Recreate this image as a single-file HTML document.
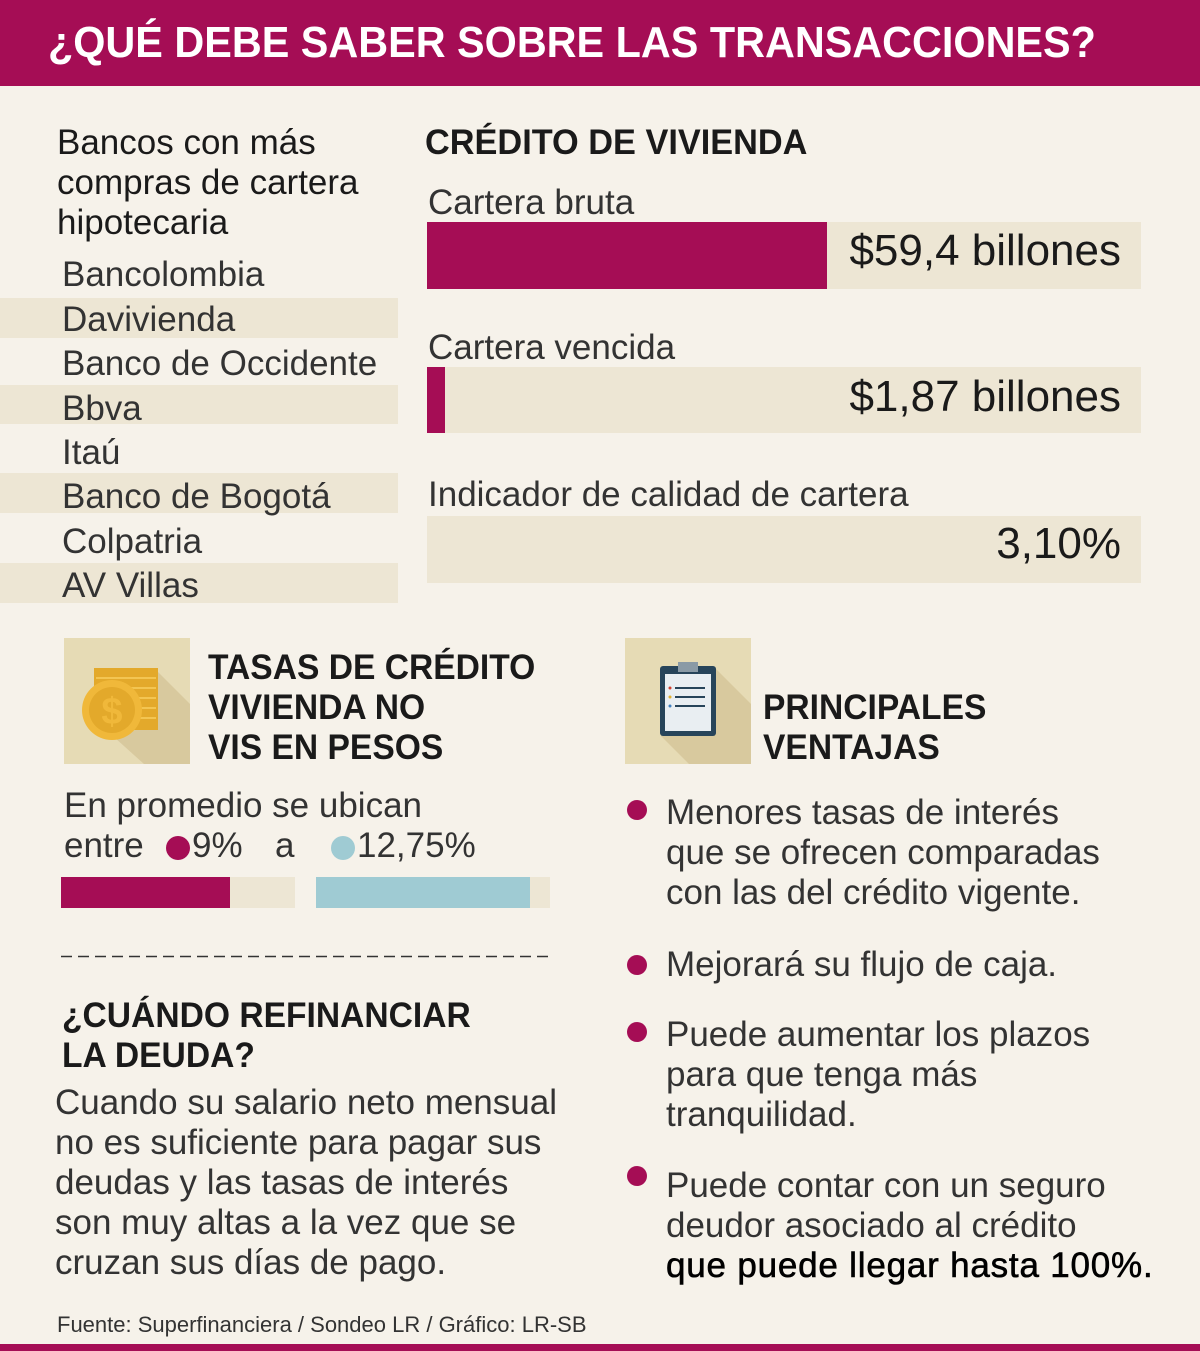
<!DOCTYPE html>
<html><head><meta charset="utf-8"><style>
body{margin:0;width:1200px;height:1351px;background:#f6f2ea;position:relative;overflow:hidden;font-family:"Liberation Sans",sans-serif;color:#1a1a1a}
.a{position:absolute;white-space:nowrap}
.t{font-size:35px;line-height:40px}
.b{font-weight:bold}
.sx{display:inline-block;transform-origin:left top}
.bar{position:absolute;background:#ede6d4}
.fill{position:absolute;background:#a50d55}
.dot{position:absolute;width:20px;height:20px;border-radius:50%;background:#a50d55}
</style></head><body>
<div class="a" style="left:0;top:0;width:1200px;height:86px;background:#a50d55"></div>
<div class="a b" style="left:48px;top:18px;font-size:44px;line-height:50px;color:#fff"><span class="sx" style="transform:scaleX(0.94)">¿QUÉ DEBE SABER SOBRE LAS TRANSACCIONES?</span></div>
<div class="a" style="left:0;top:1344px;width:1200px;height:7px;background:#a50d55"></div>

<div class="a t" style="left:57px;top:123px">Bancos con más</div>
<div class="a t" style="left:57px;top:163px">compras de cartera</div>
<div class="a t" style="left:57px;top:203px">hipotecaria</div>

<div class="bar" style="left:0;top:298px;width:398px;height:40px"></div>
<div class="bar" style="left:0;top:385px;width:398px;height:39px"></div>
<div class="bar" style="left:0;top:473px;width:398px;height:40px"></div>
<div class="bar" style="left:0;top:563px;width:398px;height:40px"></div>
<div class="a t" style="left:62px;top:255px;color:#333">Bancolombia</div>
<div class="a t" style="left:62px;top:300px;color:#333">Davivienda</div>
<div class="a t" style="left:62px;top:344px;color:#333">Banco de Occidente</div>
<div class="a t" style="left:62px;top:389px;color:#333">Bbva</div>
<div class="a t" style="left:62px;top:433px;color:#333">Itaú</div>
<div class="a t" style="left:62px;top:477px;color:#333">Banco de Bogotá</div>
<div class="a t" style="left:62px;top:522px;color:#333">Colpatria</div>
<div class="a t" style="left:62px;top:566px;color:#333">AV Villas</div>

<div class="a t b" style="left:425px;top:123px"><span class="sx" style="transform:scaleX(0.98)">CRÉDITO DE VIVIENDA</span></div>
<div class="a t" style="left:428px;top:183px;color:#333">Cartera bruta</div>
<div class="bar" style="left:427px;top:222px;width:714px;height:67px"></div>
<div class="fill" style="left:427px;top:222px;width:400px;height:67px"></div>
<div class="a" style="right:79px;top:227px;font-size:44px;line-height:48px">$59,4 billones</div>

<div class="a t" style="left:428px;top:328px;color:#333">Cartera vencida</div>
<div class="bar" style="left:427px;top:367px;width:714px;height:66px"></div>
<div class="fill" style="left:427px;top:367px;width:18px;height:66px"></div>
<div class="a" style="right:79px;top:373px;font-size:44px;line-height:48px">$1,87 billones</div>

<div class="a t" style="left:428px;top:475px;color:#333">Indicador de calidad de cartera</div>
<div class="bar" style="left:427px;top:516px;width:714px;height:67px"></div>
<div class="a" style="right:79px;top:520px;font-size:44px;line-height:48px">3,10%</div>

<!-- coin icon -->
<div class="a" style="left:64px;top:638px;width:126px;height:126px;background:#e6dbb5;overflow:hidden">
<svg width="126" height="126"><polygon points="40,90 90,30 126,66 126,126 80,126" fill="#d8c99e"/>
<rect x="30" y="30" width="64" height="62" fill="#e3a92b"/>
<g stroke="#f3c552" stroke-width="2"><line x1="32" y1="40" x2="92" y2="40"/><line x1="32" y1="50" x2="92" y2="50"/><line x1="32" y1="60" x2="92" y2="60"/><line x1="32" y1="70" x2="92" y2="70"/><line x1="32" y1="80" x2="92" y2="80"/></g>
<circle cx="48" cy="72" r="30" fill="#f0b83a"/><circle cx="48" cy="72" r="23" fill="#e3a92b"/>
<text x="48" y="86" font-size="38" font-weight="bold" text-anchor="middle" fill="#f0b83a" font-family="Liberation Sans">$</text></svg></div>
<div class="a t b" style="left:208px;top:648px;line-height:40px"><span class="sx" style="transform:scaleX(0.96)">TASAS DE CRÉDITO<br>VIVIENDA NO<br>VIS EN PESOS</span></div>

<!-- clipboard icon -->
<div class="a" style="left:625px;top:638px;width:126px;height:126px;background:#e6dbb5;overflow:hidden">
<svg width="126" height="126"><polygon points="36,98 90,30 126,66 126,126 64,126" fill="#d8c99e"/>
<rect x="35" y="28" width="56" height="70" rx="3" fill="#27445a"/>
<rect x="40" y="36" width="46" height="57" fill="#e9eef2"/>
<rect x="53" y="24" width="20" height="10" fill="#8a9aa6"/>
<g stroke="#27445a" stroke-width="2"><line x1="50" y1="50" x2="80" y2="50"/><line x1="50" y1="59" x2="80" y2="59"/><line x1="50" y1="68" x2="80" y2="68"/></g>
<circle cx="45" cy="50" r="1.5" fill="#d04030"/><circle cx="45" cy="59" r="1.5" fill="#e0b030"/><circle cx="45" cy="68" r="1.5" fill="#4080c0"/></svg></div>
<div class="a t b" style="left:763px;top:688px;line-height:40px"><span class="sx" style="transform:scaleX(0.96)">PRINCIPALES<br>VENTAJAS</span></div>

<div class="a t" style="left:64px;top:786px;color:#333">En promedio se ubican</div>
<div class="a t" style="left:64px;top:826px;color:#333">entre</div>
<div class="dot" style="left:166px;top:836px;width:24px;height:24px"></div>
<div class="a t" style="left:192px;top:826px;color:#333">9%</div>
<div class="a t" style="left:275px;top:826px;color:#333">a</div>
<div class="dot" style="left:331px;top:836px;width:24px;height:24px;background:#9fcbd3"></div>
<div class="a t" style="left:357px;top:826px;color:#333">12,75%</div>
<div class="bar" style="left:61px;top:877px;width:234px;height:31px"></div>
<div class="fill" style="left:61px;top:877px;width:169px;height:31px"></div>
<div class="bar" style="left:316px;top:877px;width:234px;height:31px"></div>
<div class="fill" style="left:316px;top:877px;width:214px;height:31px;background:#9fcbd3"></div>
<svg class="a" style="left:61px;top:955px" width="489" height="3"><line x1="0" y1="1.5" x2="489" y2="1.5" stroke="#333" stroke-width="1.5" stroke-dasharray="11,6"/></svg>

<div class="a t b" style="left:62px;top:996px;line-height:40px"><span class="sx" style="transform:scaleX(0.96)">¿CUÁNDO REFINANCIAR<br>LA DEUDA?</span></div>
<div class="a t" style="left:55px;top:1083px;color:#333">Cuando su salario neto mensual<br>no es suficiente para pagar sus<br>deudas y las tasas de interés<br>son muy altas a la vez que se<br>cruzan sus días de pago.</div>

<div class="dot" style="left:627px;top:800px"></div>
<div class="a t" style="left:666px;top:793px;color:#333">Menores tasas de interés<br>que se ofrecen comparadas<br>con las del crédito vigente.</div>
<div class="dot" style="left:627px;top:955px"></div>
<div class="a t" style="left:666px;top:945px;color:#333">Mejorará su flujo de caja.</div>
<div class="dot" style="left:627px;top:1022px"></div>
<div class="a t" style="left:666px;top:1015px;color:#333">Puede aumentar los plazos<br>para que tenga más<br>tranquilidad.</div>
<div class="dot" style="left:627px;top:1166px"></div>
<div class="a t" style="left:666px;top:1166px;color:#333">Puede contar con un seguro<br>deudor asociado al crédito<br><span style="color:#000;letter-spacing:0.8px;-webkit-text-stroke:0.6px #000">que puede llegar hasta 100%.</span></div>

<div class="a" style="left:57px;top:1312px;font-size:22px;line-height:26px;color:#333">Fuente: Superfinanciera / Sondeo LR / Gráfico: LR-SB</div>
</body></html>
